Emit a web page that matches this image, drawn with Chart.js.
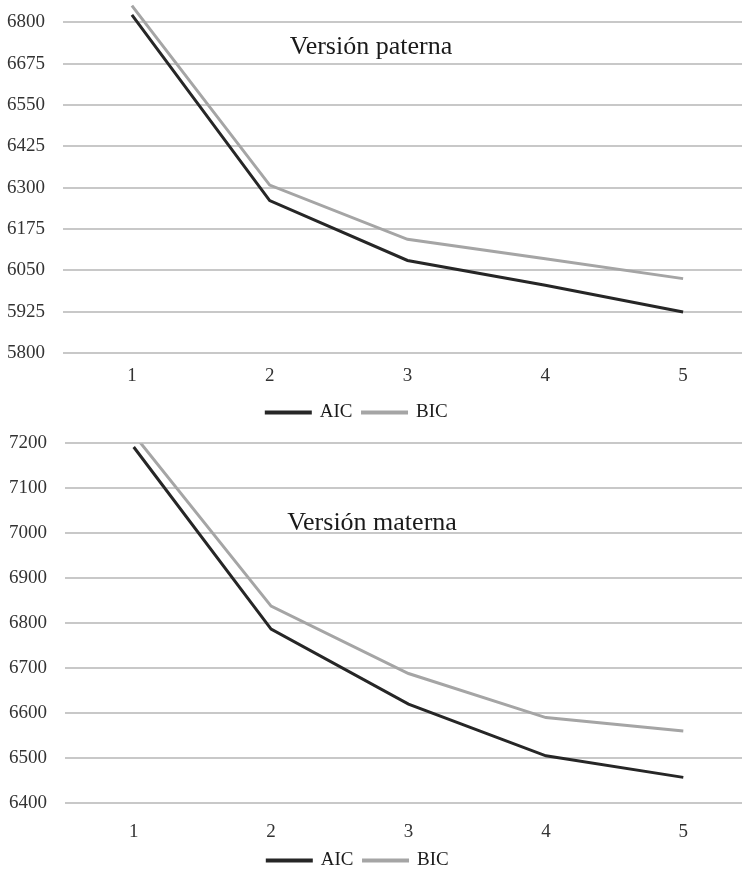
<!DOCTYPE html>
<html>
<head>
<meta charset="utf-8">
<script src="https://cdn.jsdelivr.net/npm/chart.js@4"></script>
<style>
  html, body { margin: 0; padding: 0; background: #fff; overflow: hidden; }
  body { width: 742px; height: 873px; position: relative; }
  .box { position: absolute; left: 0; }
  canvas { display: block; }
</style>
</head>
<body>
<div class="box" style="top:-7px"><canvas id="paterna" width="760" height="439"></canvas></div>
<div class="box" style="top:414px"><canvas id="materna" width="760" height="466"></canvas></div>
<script>
document.addEventListener('DOMContentLoaded', function() {

    var categories = ['1', '2', '3', '4', '5'];

    // Version paterna
    var aicPaterna = [6823, 6261, 6080, 6005, 5924];
    var bicPaterna = [6851, 6308, 6144, 6085, 6025];
    var ticksPaterna = [5800, 5925, 6050, 6175, 6300, 6425, 6550, 6675, 6800];

    // Version materna
    var aicMaterna = [7192, 6787, 6620, 6505, 6457];
    var bicMaterna = [7220, 6838, 6688, 6590, 6560];
    var ticksMaterna = [6400, 6500, 6600, 6700, 6800, 6900, 7000, 7100, 7200];

    var serif = "'Liberation Serif', 'Times New Roman', serif";
    var aicColor = '#262626';
    var bicColor = '#a5a5a5';

    function makeChart(id, title, aic, bic, ticks, cfg) {
        var ctx = document.getElementById(id).getContext('2d');

        // titulo dentro del area del grafico + legenda desplazada a la izquierda
        var extras = {
            id: 'extras_' + id,
            afterLayout: function(chart) {
                var lg = chart.legend;
                if (!lg) return;
                var center = (lg.left + lg.right) / 2;
                var dx = cfg.legendCenter - center;
                lg.left += dx;
                lg.right += dx;
            },
            afterDraw: function(chart) {
                var c = chart.ctx;
                c.save();
                c.font = '26px ' + serif;
                c.fillStyle = '#1a1a1a';
                c.textAlign = 'center';
                c.textBaseline = 'middle';
                c.fillText(title, cfg.titleX, cfg.titleY);
                c.restore();
            }
        };

        return new Chart(ctx, {
            type: 'line',
            data: {
                labels: categories,
                datasets: [{
                    label: 'AIC',
                    data: aic,
                    borderColor: aicColor,
                    backgroundColor: aicColor,
                    borderWidth: 3,
                    pointRadius: 0,
                    tension: 0,
                    clip: cfg.clip
                }, {
                    label: 'BIC',
                    data: bic,
                    borderColor: bicColor,
                    backgroundColor: bicColor,
                    borderWidth: 3,
                    pointRadius: 0,
                    tension: 0,
                    clip: cfg.clip
                }]
            },
            options: {
                responsive: false,
                animation: false,
                layout: {
                    padding: { top: 14, right: 8, bottom: 0, left: 0 }
                },
                scales: {
                    x: {
                        offset: true,
                        grid: { display: false, drawTicks: false },
                        border: { display: false },
                        ticks: {
                            color: '#333',
                            padding: cfg.xPad,
                            font: { family: serif, size: 19 }
                        },
                        afterFit: function(scale) { scale.height = cfg.xHeight; }
                    },
                    y: {
                        min: ticks[0],
                        max: ticks[ticks.length - 1],
                        afterBuildTicks: function(scale) {
                            scale.ticks = ticks.map(function(v) { return { value: v }; });
                        },
                        grid: { color: '#c8c8c8', lineWidth: 2, drawTicks: false },
                        border: { display: false },
                        ticks: {
                            color: '#333',
                            padding: 18,
                            font: { family: serif, size: 19 },
                            callback: function(v) { return String(v); }
                        },
                        afterFit: function(scale) { scale.width = cfg.yWidth; }
                    }
                },
                plugins: {
                    legend: {
                        position: 'bottom',
                        labels: {
                            boxWidth: 44,
                            boxHeight: 1,
                            color: '#1a1a1a',
                            padding: 10,
                            font: { family: serif, size: 19 }
                        }
                    },
                    title: { display: false },
                    tooltip: { enabled: false }
                }
            },
            plugins: [extras]
        });
    }

    makeChart('paterna', 'Versión paterna', aicPaterna, bicPaterna, ticksPaterna, {
        clip: false, yWidth: 63, xHeight: 40, xPad: 12,
        legendCenter: 357, titleX: 371, titleY: 54
    });

    makeChart('materna', 'Versión materna', aicMaterna, bicMaterna, ticksMaterna, {
        clip: 0, yWidth: 65, xHeight: 38, xPad: 18,
        legendCenter: 358, titleX: 372, titleY: 109
    });
});
</script>
</body>
</html>
